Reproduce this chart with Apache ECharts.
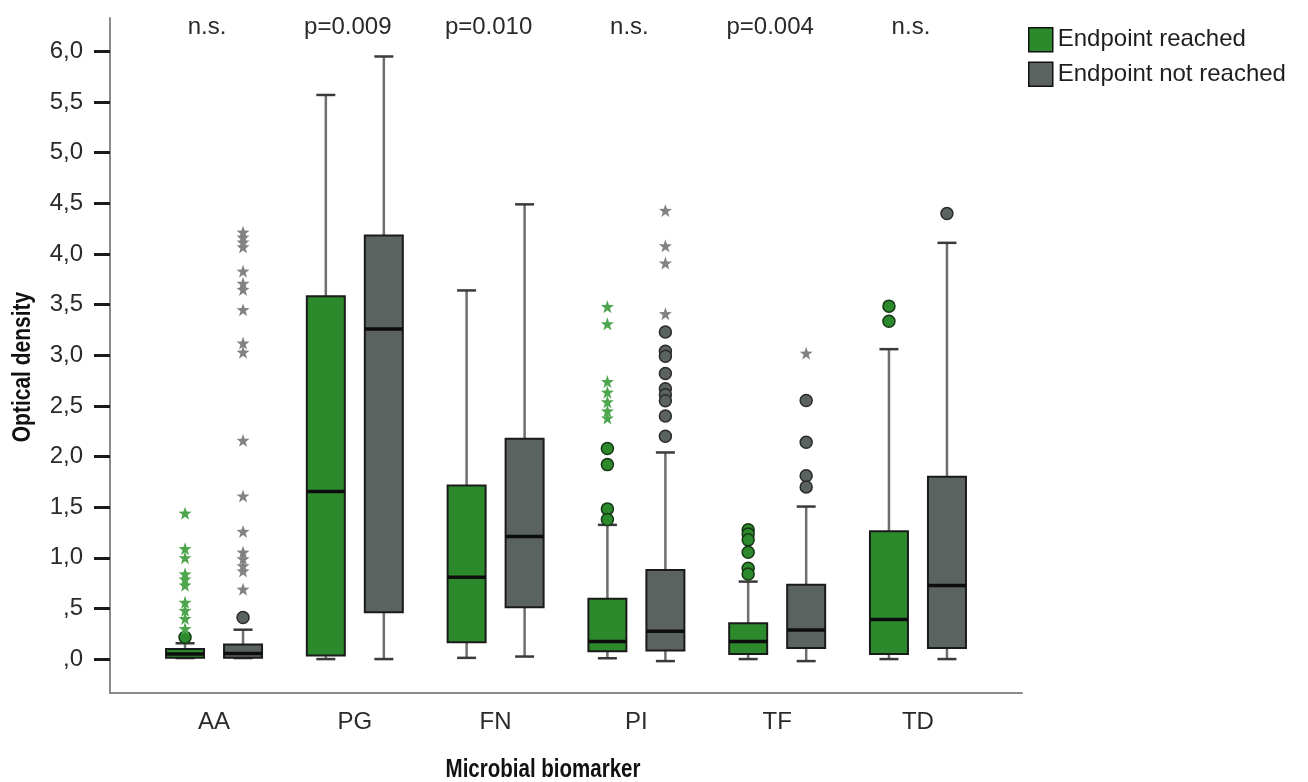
<!DOCTYPE html>
<html>
<head>
<meta charset="utf-8">
<title>Optical density by microbial biomarker</title>
<script src="https://cdn.jsdelivr.net/npm/echarts@6/dist/echarts.min.js"></script>
<style>
  html, body { margin: 0; padding: 0; background: #fff; }
  #chart { width: 1308px; height: 782px; }
</style>
</head>
<body>
<div id="chart"></div>
<script>
// categories and p-values shown above each pair
var categories = ['AA', 'PG', 'FN', 'PI', 'TF', 'TD'];
var pLabels = ['n.s.', 'p=0.009', 'p=0.010', 'n.s.', 'p=0.004', 'n.s.'];
var yTicks = [0, 0.5, 1, 1.5, 2, 2.5, 3, 3.5, 4, 4.5, 5, 5.5, 6];

// box stats per category: [whisker low, q1, median, q3, whisker high]
var reachedBox = [
	[0.01, 0.012, 0.05, 0.10, 0.156],
	[0.0, 0.035, 1.654, 3.583, 5.57],
	[0.012, 0.166, 0.808, 1.714, 3.64],
	[0.008, 0.077, 0.173, 0.595, 1.325],
	[0.0, 0.05, 0.173, 0.354, 0.765],
	[0.0, 0.05, 0.39, 1.262, 3.06]
];
var notReachedBox = [
	[0.01, 0.012, 0.054, 0.143, 0.29],
	[0.0, 0.462, 3.26, 4.183, 5.95],
	[0.025, 0.512, 1.21, 2.175, 4.49],
	[-0.02, 0.084, 0.275, 0.88, 2.04],
	[-0.02, 0.11, 0.288, 0.733, 1.506],
	[0.0, 0.11, 0.726, 1.80, 4.11]
];

// outliers: [category index, value]
var reachedCircles = [
	[0, 0.215],
	[3, 2.08], [3, 1.92], [3, 1.483], [3, 1.378],
	[4, 1.276], [4, 1.236], [4, 1.177], [4, 1.055], [4, 0.897], [4, 0.84],
	[5, 3.485], [5, 3.336]
];
var reachedStars = [
	[0, 1.44], [0, 1.09], [0, 1.0], [0, 0.84], [0, 0.79], [0, 0.73], [0, 0.56], [0, 0.48], [0, 0.40], [0, 0.30],
	[3, 3.48], [3, 3.31], [3, 2.74], [3, 2.635], [3, 2.54], [3, 2.45], [3, 2.38]
];
var notReachedCircles = [
	[0, 0.41],
	[3, 3.23], [3, 3.04], [3, 2.99], [3, 2.82], [3, 2.67], [3, 2.61], [3, 2.55], [3, 2.40], [3, 2.20],
	[4, 2.553], [4, 2.14], [4, 1.81], [4, 1.70],
	[5, 4.40]
];
var notReachedStars = [
	[0, 4.215], [0, 4.166], [0, 4.117], [0, 4.07], [0, 3.83], [0, 3.71], [0, 3.65], [0, 3.45],
	[0, 3.12], [0, 3.03], [0, 2.16], [0, 1.61], [0, 1.26], [0, 1.055], [0, 0.99], [0, 0.92], [0, 0.87], [0, 0.69],
	[3, 4.43], [3, 4.08], [3, 3.91], [3, 3.41],
	[4, 3.02]
];

var GREEN = '#2c8a2c';
var GRAY = '#5b6360';
var STAR = 'path://M10,0 L12.35,6.76 L19.51,6.91 L13.8,11.24 L15.88,18.09 L10,14 L4.12,18.09 L6.2,11.24 L0.49,6.91 L7.65,6.76 Z';
var FONT = "'Liberation Sans', Arial, sans-serif";
var GROUP_OFFSET = 29;
var BOX_HALF = 19;

function boxRows(stats) {
	return stats.map(function (s, i) { return [i].concat(s); });
}

function makeBoxRenderer(offset, fill) {
	return function (params, api) {
		var x = api.value(0);
		var low = api.coord([x, api.value(1)]);
		var q1 = api.coord([x, api.value(2)]);
		var med = api.coord([x, api.value(3)]);
		var q3 = api.coord([x, api.value(4)]);
		var high = api.coord([x, api.value(5)]);
		var cx = low[0] + offset;
		var capHalf = BOX_HALF / 2;
		var whisker = { stroke: '#6e6e6e', lineWidth: 2.5 };
		var cap = { stroke: '#3a3a3a', lineWidth: 2.5 };
		return {
			type: 'group',
			children: [
				{ type: 'line', shape: { x1: cx, y1: q1[1], x2: cx, y2: low[1] }, style: whisker },
				{ type: 'line', shape: { x1: cx, y1: q3[1], x2: cx, y2: high[1] }, style: whisker },
				{ type: 'line', shape: { x1: cx - capHalf, y1: low[1], x2: cx + capHalf, y2: low[1] }, style: cap },
				{ type: 'line', shape: { x1: cx - capHalf, y1: high[1], x2: cx + capHalf, y2: high[1] }, style: cap },
				{
					type: 'rect',
					shape: { x: cx - BOX_HALF, y: q3[1], width: BOX_HALF * 2, height: q1[1] - q3[1] },
					style: { fill: fill, stroke: '#1b1b1b', lineWidth: 2 }
				},
				{ type: 'line', shape: { x1: cx - BOX_HALF, y1: med[1], x2: cx + BOX_HALF, y2: med[1] }, style: { stroke: '#0d0d0d', lineWidth: 3.5 } }
			]
		};
	};
}

var chart = echarts.init(document.getElementById('chart'));

var option = {
	backgroundColor: '#fff',
	animation: false,
	grid: { left: 110, top: 18, right: 286, bottom: 89 },
	legend: {
		orient: 'vertical',
		left: 1028,
		top: 27,
		padding: 0,
		itemWidth: 24,
		itemHeight: 24,
		itemGap: 9,
		selectedMode: false,
		textStyle: { fontSize: 24, color: '#1e1e1e', fontFamily: FONT },
		data: [
			{ name: 'Endpoint reached', icon: 'rect', itemStyle: { color: GREEN, borderColor: '#111', borderWidth: 1.5 } },
			{ name: 'Endpoint not reached', icon: 'rect', itemStyle: { color: GRAY, borderColor: '#111', borderWidth: 1.5 } }
		]
	},
	xAxis: {
		type: 'value',
		min: -0.739,
		max: 5.739,
		splitLine: { show: false },
		axisLine: { show: true, onZero: false, lineStyle: { color: '#8a8a8a', width: 2 } },
		axisTick: { show: false },
		axisLabel: {
			customValues: categories.map(function (c, i) { return i; }),
			formatter: function (v) { return categories[Math.round(v)]; },
			fontSize: 24,
			color: '#2a2a2a',
			fontFamily: FONT,
			margin: 17
		}
	},
	yAxis: {
		type: 'value',
		min: -0.335,
		max: 6.33,
		splitLine: { show: false },
		axisLine: { show: true, onZero: false, lineStyle: { color: '#8a8a8a', width: 2 } },
		axisTick: {
			show: true,
			customValues: yTicks,
			length: 16,
			lineStyle: { color: '#1a1a1a', width: 3 }
		},
		axisLabel: {
			customValues: yTicks,
			formatter: function (v) {
				var s = v.toFixed(1).replace('.', ',');
				return s.charAt(0) === '0' ? s.slice(1) : s;
			},
			fontSize: 24,
			color: '#2a2a2a',
			fontFamily: FONT,
			margin: 27
		}
	},
	graphic: [
		{
			type: 'text',
			x: 23,
			y: 367,
			rotation: Math.PI / 2,
			scaleX: 0.84,
			style: {
				text: 'Optical density',
				fontSize: 25,
				fontWeight: 'bold',
				fontFamily: FONT,
				fill: '#111',
				textAlign: 'center',
				textVerticalAlign: 'middle'
			}
		},
		{
			type: 'text',
			x: 543,
			y: 770,
			scaleX: 0.82,
			style: {
				text: 'Microbial biomarker',
				fontSize: 25,
				fontWeight: 'bold',
				fontFamily: FONT,
				fill: '#111',
				textAlign: 'center',
				textVerticalAlign: 'middle'
			}
		}
	],
	series: [
		{
			name: 'Endpoint reached',
			type: 'custom',
			renderItem: makeBoxRenderer(-GROUP_OFFSET, GREEN),
			itemStyle: { color: GREEN },
			encode: { x: 0, y: [1, 2, 3, 4, 5] },
			data: boxRows(reachedBox),
			z: 2
		},
		{
			name: 'Endpoint not reached',
			type: 'custom',
			renderItem: makeBoxRenderer(GROUP_OFFSET, GRAY),
			itemStyle: { color: GRAY },
			encode: { x: 0, y: [1, 2, 3, 4, 5] },
			data: boxRows(notReachedBox),
			z: 2
		},
		{
			name: 'Endpoint reached',
			type: 'scatter',
			symbol: 'circle',
			symbolSize: 12,
			symbolOffset: [-GROUP_OFFSET, 0],
			itemStyle: { color: GREEN, borderColor: '#163816', borderWidth: 1.5, opacity: 1 },
			data: reachedCircles,
			z: 3
		},
		{
			name: 'Endpoint reached',
			type: 'scatter',
			symbol: STAR,
			symbolSize: 13,
			symbolOffset: [-GROUP_OFFSET, 0],
			itemStyle: { color: '#4da64d', opacity: 1 },
			data: reachedStars,
			z: 3
		},
		{
			name: 'Endpoint not reached',
			type: 'scatter',
			symbol: 'circle',
			symbolSize: 12,
			symbolOffset: [GROUP_OFFSET, 0],
			itemStyle: { color: GRAY, borderColor: '#2b2b2b', borderWidth: 1.5, opacity: 1 },
			data: notReachedCircles,
			z: 3
		},
		{
			name: 'Endpoint not reached',
			type: 'scatter',
			symbol: STAR,
			symbolSize: 13,
			symbolOffset: [GROUP_OFFSET, 0],
			itemStyle: { color: '#828282', opacity: 1 },
			data: notReachedStars,
			z: 3
		},
		{
			name: 'p-values',
			type: 'scatter',
			symbolSize: 1,
			itemStyle: { color: 'rgba(0,0,0,0)', opacity: 1 },
			data: categories.map(function (c, i) { return [i, 6.24]; }),
			label: {
				show: true,
				position: 'inside',
				offset: [-7, 0],
				formatter: function (p) { return pLabels[p.dataIndex]; },
				fontSize: 24,
				color: '#2a2a2a',
				opacity: 1,
				fontFamily: FONT
			},
			silent: true
		}
	]
};

chart.setOption(option);
</script>
</body>
</html>
